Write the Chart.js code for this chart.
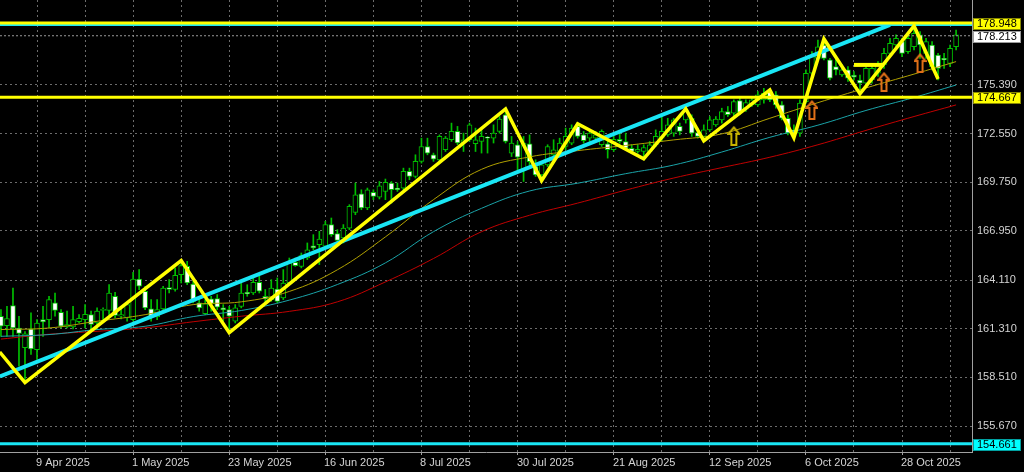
<!DOCTYPE html>
<html>
<head>
<meta charset="utf-8">
<script src="https://cdn.jsdelivr.net/npm/chart.js@4.4.1/dist/chart.umd.min.js"></script>
<style>
  html, body { margin: 0; padding: 0; background: #000; }
</style>
</head>
<body>
<canvas id="priceChart" width="1024" height="472"></canvas>
<script>
// Daily candles, bar 0 = 1 Apr 2025 (weekdays only)
const openPrices = [162.02,161.48,162.63,161.34,160.20,161.29,160.09,161.82,161.82,162.79,
  162.25,161.40,161.40,161.71,161.82,162.11,161.63,162.36,162.36,163.17,
  162.02,161.92,161.82,164.17,163.46,162.44,161.98,162.44,163.67,163.56,
  164.42,164.90,163.88,162.79,162.17,163.02,163.04,162.50,162.40,161.73,
  162.59,163.40,163.36,163.98,163.17,162.98,163.59,163.08,163.94,165.13,
  164.90,165.38,166.09,166.15,166.06,167.31,166.79,166.54,167.11,168.02,
  169.09,168.27,169.17,168.90,169.23,169.71,169.42,169.42,170.38,170.09,
  170.96,171.82,171.34,171.05,171.63,172.21,172.69,172.02,172.21,171.98,
  172.11,172.36,172.30,172.69,173.65,171.43,171.92,170.47,171.97,170.66,
  170.18,170.76,171.34,171.53,171.82,172.01,172.98,172.49,172.30,172.30,
  171.92,171.97,171.63,172.24,172.11,171.72,171.53,171.53,171.53,171.92,
  172.30,172.49,172.59,172.98,173.36,173.45,172.63,172.40,172.78,173.07,
  173.36,173.84,173.74,174.47,173.97,174.22,174.22,174.51,174.99,174.80,
  174.22,173.45,172.78,172.59,174.41,176.05,176.91,177.68,176.82,176.43,
  175.95,176.24,175.95,175.66,175.47,175.66,176.05,176.53,177.20,177.68,
  177.87,177.30,177.58,178.26,177.20,177.68,177.10,176.91,176.62,177.58];
const highPrices = [162.40,162.59,163.65,162.02,161.13,162.21,161.82,162.59,163.17,163.36,
  162.40,162.31,162.59,162.11,162.69,162.31,162.50,162.50,163.84,163.40,
  162.59,162.79,164.56,164.71,163.75,162.98,162.98,163.75,164.13,164.81,
  165.25,165.19,164.04,162.98,162.98,163.17,163.27,162.69,162.59,162.69,
  163.94,163.84,164.23,164.33,163.56,164.13,164.23,164.71,165.38,165.38,
  165.67,166.25,166.73,166.92,167.50,167.69,167.02,167.31,168.46,169.71,
  169.32,169.42,169.32,169.80,169.94,169.80,169.71,170.57,170.57,171.34,
  172.30,172.30,171.44,172.49,172.40,173.17,172.98,172.59,173.17,172.88,
  172.88,172.40,173.07,173.55,174.03,172.40,172.11,172.40,172.49,171.05,
  170.95,171.92,172.21,172.30,172.88,173.07,173.17,172.69,172.78,172.69,
  172.78,172.21,172.40,172.59,172.59,171.92,171.92,171.92,172.11,172.78,
  173.55,173.45,173.45,173.17,174.03,173.65,172.88,173.07,173.55,173.55,
  174.03,174.13,174.51,174.61,174.51,174.70,174.99,175.18,175.18,174.99,
  174.41,173.64,173.07,174.51,176.24,177.30,177.97,178.06,176.91,177.01,
  176.53,176.43,176.14,175.95,176.43,176.53,176.72,177.49,178.06,178.26,
  178.06,178.35,178.83,178.45,178.06,177.87,177.20,177.20,177.68,178.54];
const lowPrices = [160.86,160.86,160.86,159.13,158.19,159.81,159.52,160.86,161.34,162.02,
  161.34,161.34,161.29,161.63,161.34,161.25,161.29,161.73,162.11,161.92,
  161.86,161.73,161.73,163.55,162.40,161.73,161.82,162.31,163.36,163.46,
  163.94,163.84,162.79,162.31,162.11,162.31,162.40,161.73,161.06,161.63,
  162.50,163.17,163.27,163.36,162.79,162.88,162.79,162.98,163.84,164.90,
  164.81,165.29,165.86,165.00,165.96,166.63,166.34,166.25,167.02,167.88,
  168.17,168.17,168.75,168.79,168.75,168.55,169.23,169.32,169.90,170.00,
  170.86,171.34,170.96,170.96,171.53,172.11,171.92,171.53,172.11,171.53,
  171.44,171.44,172.02,172.59,172.02,171.24,170.47,169.80,170.76,170.09,
  169.84,170.66,171.15,171.43,171.63,171.92,172.30,172.01,172.11,172.11,
  171.82,171.15,171.53,172.01,171.63,171.43,171.43,171.05,171.43,171.82,
  172.11,172.40,172.40,172.49,173.17,172.40,172.30,172.15,172.69,172.98,
  173.17,173.55,173.55,173.65,173.84,174.13,174.13,174.32,174.41,174.03,
  173.36,172.49,172.30,172.40,174.32,175.95,176.82,176.82,175.66,175.95,
  175.86,175.57,175.66,174.89,175.37,175.47,175.86,176.33,177.01,177.49,
  177.01,177.20,177.39,176.91,176.91,176.24,175.66,176.33,176.43,177.39];
const closePrices = [161.44,161.88,161.34,161.02,161.00,160.13,161.63,161.69,162.98,162.36,
  161.44,161.54,161.82,161.90,162.13,161.54,162.31,162.40,163.36,162.06,
  162.11,162.69,164.17,163.75,162.50,161.98,162.40,163.65,163.56,164.38,
  164.94,163.94,162.88,162.50,162.73,162.75,162.54,162.38,162.02,162.50,
  163.36,163.31,163.98,163.46,163.02,163.65,162.88,163.94,165.09,164.94,
  165.52,165.86,165.96,166.48,167.31,166.73,166.40,167.11,168.36,169.03,
  168.27,169.32,168.94,169.55,169.75,169.32,169.32,170.38,170.09,170.96,
  171.82,171.44,171.09,172.40,172.30,172.69,172.02,172.21,173.07,172.21,
  172.40,172.30,172.59,173.40,172.11,172.01,171.20,172.01,170.95,170.18,
  170.76,171.82,171.63,172.01,172.40,172.88,172.40,172.16,172.59,172.49,
  172.69,171.63,172.24,172.11,171.72,171.53,171.66,171.76,171.92,172.40,
  172.69,173.07,173.36,172.69,173.93,172.59,172.40,172.78,173.36,173.40,
  173.84,173.65,174.41,173.78,174.36,174.51,174.80,174.89,174.51,174.22,
  173.45,172.59,172.59,174.32,176.05,177.10,177.58,176.91,175.76,176.24,
  176.24,175.76,175.82,175.47,176.33,176.33,176.53,177.20,177.78,178.06,
  177.20,178.06,178.35,177.68,177.87,176.43,176.33,176.82,177.49,178.26];

// Moving averages read every 8 bars
const maBars = [0,8,16,24,32,40,48,56,64,72,80,88,96,104,112,120,128,136,144,152,159];
const maFast = [161.25,161.34,161.73,162.11,162.69,162.85,163.45,164.70,166.60,168.75,170.50,171.22,171.58,171.88,172.20,172.55,173.45,174.35,175.20,176.00,176.72];
const maMid  = [160.86,160.96,161.25,161.44,162.00,162.35,162.95,163.85,165.10,166.90,168.25,169.25,169.70,170.25,170.75,171.50,172.35,173.05,173.90,174.65,175.37];
const maSlow = [160.70,160.98,161.15,161.35,161.70,162.02,162.30,162.85,164.00,165.35,166.90,167.85,168.55,169.30,170.00,170.60,171.20,171.92,172.75,173.55,174.22];

// ZigZag pivots
const zigzagBars   = [-0.2,4,30,38,84,90,96,107,114,117,128,132,137,143,152,156];
const zigzagValues = [159.95,158.19,165.23,161.07,173.99,169.84,173.13,171.11,173.99,172.15,175.09,172.32,178.03,174.86,178.78,175.72];

// Trend line and price levels
const trendBars = [-0.16, 148];
const trendValues = [158.54, 178.84];
const resistanceLevel = 178.948;
const channelTop = 178.83;
const supportLevel = 174.667;
const bottomLevel = 154.661;
const bidLevel = 178.213;
const shelfBars = [142, 147];
const shelfValue = 176.53;

// Signal arrows
const yellowArrowBars = [122];
const yellowArrowValues = [172.43];
const orangeArrowBars = [135, 147, 153];
const orangeArrowValues = [173.93, 175.55, 176.64];

// Axis ticks
const yTickValues = [155.670, 158.510, 161.310, 164.110, 166.950, 169.750, 172.550, 175.390];
const gridBars = [6,14,22,30,38,46,54,62,70,78,86,94,102,110,118,126,134,142,150,158];
const dateTickBars = [6,22,38,54,70,86,102,118,134,150];
const dateTickLabels = ['9 Apr 2025','1 May 2025','23 May 2025','16 Jun 2025','8 Jul 2025',
  '30 Jul 2025','21 Aug 2025','12 Sep 2025','6 Oct 2025','28 Oct 2025'];

const X_MIN = -0.16, X_MAX = 161.65;
const Y_MIN = 154.18, Y_MAX = 180.278;

const GREEN = '#00c000';
const GRID = '#6c6c6c';
const FONT = "11px 'Liberation Sans', Arial, sans-serif";

const pts = (xs, ys) => xs.map((x, i) => ({ x: x, y: ys[i] }));
const hline = v => [{ x: X_MIN, y: v }, { x: X_MAX, y: v }];

const bodies = openPrices.map((o, i) => ({ x: i, y: [o, closePrices[i]] }));
const wicks = lowPrices.map((l, i) => ({ x: i, y: [l, highPrices[i]] }));

function makeArrow(color) {
  const c = document.createElement('canvas');
  c.width = 13; c.height = 20;
  const g = c.getContext('2d');
  g.strokeStyle = color;
  g.lineWidth = 2;
  g.beginPath();
  g.moveTo(6.5, 1.5); g.lineTo(12, 8); g.lineTo(9, 8); g.lineTo(9, 19);
  g.lineTo(4, 19); g.lineTo(4, 8); g.lineTo(1, 8); g.closePath();
  g.stroke();
  return c;
}

Chart.defaults.font.family = "'Liberation Sans', Arial, sans-serif";
Chart.defaults.font.size = 11;

// axis labels and price boxes, drawn by hand so the layout keeps no label padding
const axisLabels = {
  id: 'axisLabels',
  afterDraw(chart) {
    const ctx = chart.ctx;
    const xs = chart.scales.x, ys = chart.scales.y;
    const area = chart.chartArea;
    ctx.save();
    ctx.font = FONT;
    ctx.fillStyle = '#d4d4d4';
    ctx.textBaseline = 'middle';
    ctx.textAlign = 'left';
    dateTickBars.forEach((b, k) => {
      ctx.fillText(dateTickLabels[k], Math.round(xs.getPixelForValue(b)) - 1, area.bottom + 11);
    });
    yTickValues.forEach(v => {
      ctx.fillText(v.toFixed(3), area.right + 5, Math.round(ys.getPixelForValue(v)));
    });

    const boxes = [
      { v: bidLevel, text: '178.213', bg: '#ffffff', border: '#9a9a9a' },
      { v: resistanceLevel, text: '178.948', bg: '#ffff00', border: '#8a8a00' },
      { v: supportLevel, text: '174.667', bg: '#ffff00', border: '#8a8a00' },
      { v: bottomLevel, text: '154.661', bg: '#00ffff', border: '#00a0a0' }
    ];
    boxes.forEach(b => {
      const py = Math.round(ys.getPixelForValue(b.v)) + 1;
      ctx.fillStyle = b.bg;
      ctx.fillRect(area.right + 1, py - 6, 48, 12);
      ctx.strokeStyle = b.border;
      ctx.lineWidth = 1;
      ctx.strokeRect(area.right + 1.5, py - 5.5, 47, 11);
      ctx.fillStyle = '#000';
      ctx.fillText(b.text, area.right + 5, py);
    });
    ctx.restore();
  }
};

new Chart(document.getElementById('priceChart').getContext('2d'), {
  type: 'bar',
  data: {
    datasets: [
      {
        type: 'line', data: pts(zigzagBars, zigzagValues), borderColor: '#ffff00',
        borderWidth: 3.5, pointRadius: 0, tension: 0, order: 0
      },
      {
        type: 'line', data: pts(shelfBars, [shelfValue, shelfValue]), borderColor: '#ffff00',
        borderWidth: 4, pointRadius: 0, order: 0
      },
      {
        type: 'line', data: pts(yellowArrowBars, yellowArrowValues), showLine: false,
        pointStyle: makeArrow('#c8b400'), order: 0
      },
      {
        type: 'line', data: pts(orangeArrowBars, orangeArrowValues), showLine: false,
        pointStyle: makeArrow('#e07018'), order: 0
      },
      {
        type: 'line', data: pts(trendBars, trendValues), borderColor: '#19e6f5',
        borderWidth: 4, pointRadius: 0, order: 1
      },
      {
        type: 'line', data: hline(channelTop), borderColor: '#19e6f5',
        borderWidth: 2, pointRadius: 0, order: 1
      },
      {
        type: 'line', data: hline(resistanceLevel), borderColor: '#ffff00',
        borderWidth: 3, pointRadius: 0, order: 0
      },
      {
        type: 'line', data: hline(supportLevel), borderColor: '#ffff00',
        borderWidth: 3, pointRadius: 0, order: 1
      },
      {
        type: 'line', data: hline(bottomLevel), borderColor: '#19e6f5',
        borderWidth: 3, pointRadius: 0, order: 1
      },
      {
        type: 'line', data: hline(bidLevel), borderColor: '#9a9a9a',
        borderWidth: 1, borderDash: [2, 2], pointRadius: 0, order: 1
      },
      {
        type: 'line', data: pts(maBars, maFast), borderColor: '#b0a000',
        borderWidth: 1, pointRadius: 0, tension: 0.4, order: 2
      },
      {
        type: 'line', data: pts(maBars, maMid), borderColor: '#1aa3a8',
        borderWidth: 1, pointRadius: 0, tension: 0.4, order: 2
      },
      {
        type: 'line', data: pts(maBars, maSlow), borderColor: '#c00000',
        borderWidth: 1, pointRadius: 0, tension: 0.4, order: 2
      },
      {
        data: bodies, grouped: false, barThickness: 5, minBarLength: 1,
        backgroundColor: c => (c.raw && c.raw.y[1] >= c.raw.y[0]) ? '#000000' : '#ffffff',
        borderColor: GREEN, borderWidth: 1, borderSkipped: false, order: 3
      },
      {
        data: wicks, grouped: false, barThickness: 1,
        backgroundColor: GREEN, borderWidth: 0, order: 4
      }
    ]
  },
  options: {
    responsive: false,
    animation: false,
    layout: { padding: 0, autoPadding: false },
    plugins: { legend: { display: false }, tooltip: { enabled: false } },
    scales: {
      x: {
        type: 'linear', min: X_MIN, max: X_MAX, position: 'bottom', offset: false,
        afterBuildTicks: s => { s.ticks = gridBars.map(v => ({ value: v })); },
        afterFit: s => { s.height = 20; },
        ticks: { display: false },
        grid: {
          offset: false, color: GRID, lineWidth: 1, tickLength: 3,
          tickColor: c => (c.tick && dateTickBars.indexOf(c.tick.value) >= 0) ? '#a0a0a0' : 'rgba(0,0,0,0)'
        },
        border: { display: true, color: '#a0a0a0', width: 1, dash: [2, 3] }
      },
      y: {
        type: 'linear', position: 'right', min: Y_MIN, max: Y_MAX,
        afterBuildTicks: s => { s.ticks = yTickValues.map(v => ({ value: v })); },
        afterFit: s => { s.width = 52; },
        ticks: { display: false },
        grid: { color: GRID, lineWidth: 1, drawTicks: false },
        border: { display: true, color: '#a0a0a0', width: 1, dash: [2, 3] }
      }
    }
  },
  plugins: [axisLabels]
});
</script>
</body>
</html>
